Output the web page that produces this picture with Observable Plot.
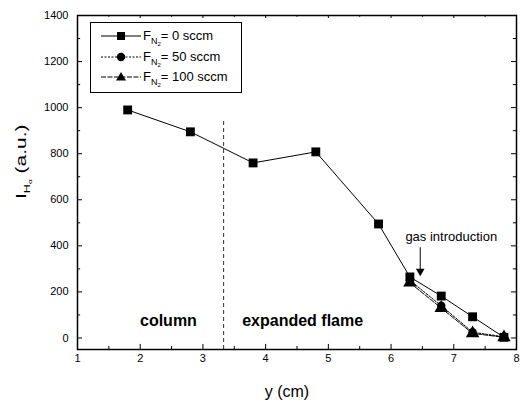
<!DOCTYPE html>
<html><head><meta charset="utf-8">
<script src="https://cdn.jsdelivr.net/npm/d3@7"></script>
<script src="https://cdn.jsdelivr.net/npm/@observablehq/plot@0.6"></script>
<style>
body{margin:0;background:#fff;font-family:"Liberation Sans",Arial,sans-serif;}
#wrap{position:relative;width:521px;height:407px;}
#legend{position:absolute;left:90px;top:22px;width:150px;height:69px;border:1px solid #000;background:#fff;}
.row{position:absolute;left:0;height:20px;font-size:13px;line-height:20px;white-space:nowrap;}
.row svg{position:absolute;left:10px;top:0;}
.row span{position:absolute;left:52px;top:0;}
sub{font-size:9px;vertical-align:-4px;line-height:0;}
sub sub{font-size:6px;vertical-align:-2px;}
#ylab{position:absolute;left:0;top:0;font-size:15px;white-space:nowrap;transform-origin:0 0;}
</style>
</head><body>
<div id="wrap"></div>
<script>
// data
const y0x = [1.8, 2.8, 3.8, 4.8, 5.8, 6.3, 6.8, 7.3, 7.8];
const y0v = [990, 895, 760, 808, 495, 265, 182, 92, 3];
const y50x = [6.3, 6.8, 7.3, 7.8];
const y50v = [250, 140, 25, 5];
const y100x = [6.3, 6.8, 7.3, 7.8];
const y100v = [240, 130, 20, 3];
const seriesNames = ["0 sccm", "50 sccm", "100 sccm"];
const xMajor = [1, 2, 3, 4, 5, 6, 7, 8];
const xMinor = [1.5, 2.5, 3.5, 4.5, 5.5, 6.5, 7.5];
const yMajor = [0, 200, 400, 600, 800, 1000, 1200, 1400];
const yMinor = [100, 300, 500, 700, 900, 1100, 1300];
const boundaryX = 3.33;
const arrowX = 6.465;

const d0 = y0x.map((x, i) => ({x, y: y0v[i]}));
const d50 = y50x.map((x, i) => ({x, y: y50v[i]}));
const d100 = y100x.map((x, i) => ({x, y: y100v[i]}));

const yMin = -50, yMax = 1400, xMin = 1, xMax = 8;
const tkY = 22, tkYm = 13, tkX = 0.08, tkXm = 0.05;

const chart = Plot.plot({
  width: 521, height: 407,
  marginTop: 15, marginLeft: 77, marginRight: 5, marginBottom: 58,
  style: {fontFamily: '"Liberation Sans", Arial, sans-serif', fontSize: "11px", color: "#000", background: "#fff"},
  x: {domain: [xMin, xMax]},
  y: {domain: [yMin, yMax]},
  marks: [
    Plot.axisX(xMajor, {tickSize: 0, tickPadding: 5, label: null, fontSize: 11, tickFormat: "d"}),
    Plot.axisY(yMajor, {tickSize: 0, tickPadding: 9, label: null, fontSize: 11, tickFormat: "d"}),
    // inward ticks
    Plot.ruleX(xMajor, {x: d => d, y1: yMin, y2: yMin + tkY, stroke: "#000"}),
    Plot.ruleX(xMinor, {x: d => d, y1: yMin, y2: yMin + tkYm, stroke: "#000"}),
    Plot.ruleX(xMajor, {x: d => d, y1: yMax, y2: yMax - tkYm, stroke: "#000"}),
    Plot.ruleX(xMinor, {x: d => d, y1: yMax, y2: yMax - tkYm * 0.6, stroke: "#000"}),
    Plot.ruleY(yMajor, {y: d => d, x1: xMin, x2: xMin + tkX, stroke: "#000"}),
    Plot.ruleY(yMinor, {y: d => d, x1: xMin, x2: xMin + tkXm, stroke: "#000"}),
    Plot.ruleY(yMajor, {y: d => d, x1: xMax, x2: xMax - tkX, stroke: "#000"}),
    Plot.ruleY(yMinor, {y: d => d, x1: xMax, x2: xMax - tkXm, stroke: "#000"}),
    // boundary
    Plot.ruleX([boundaryX], {x: d => d, y1: yMin, y2: 945, stroke: "#333", strokeDasharray: "4,3"}),
    // series
    Plot.line(d100, {x: "x", y: "y", stroke: "#000", strokeWidth: 1, strokeDasharray: "5,1.5"}),
    Plot.line(d50, {x: "x", y: "y", stroke: "#000", strokeWidth: 1, strokeDasharray: "2,1.5"}),
    Plot.line(d0, {x: "x", y: "y", stroke: "#000", strokeWidth: 1}),
    Plot.dot(d100, {x: "x", y: "y", symbol: "triangle", r: 5, fill: "#000"}),
    Plot.dot(d50, {x: "x", y: "y", symbol: "circle", r: 4.2, fill: "#000"}),
    Plot.dot(d0, {x: "x", y: "y", symbol: "square", r: 5, fill: "#000"}),
    // annotations
    Plot.text(["column"], {x: 2.45, y: 50, text: d => d, fontSize: 16, fontWeight: "bold", lineAnchor: "bottom", textAnchor: "middle"}),
    Plot.text(["expanded flame"], {x: 4.59, y: 50, text: d => d, fontSize: 16, fontWeight: "bold", lineAnchor: "bottom", textAnchor: "middle"}),
    Plot.text(["gas introduction"], {x: 6.96, y: 419, text: d => d, fontSize: 13, lineAnchor: "bottom", textAnchor: "middle"}),
    Plot.ruleX([arrowX], {x: d => d, y1: 392, y2: 290, stroke: "#000", strokeWidth: 1}),
    Plot.dot([arrowX], {x: d => d, y: 290, symbol: "triangle", r: 3.2, fill: "#000", rotate: 180}),
    Plot.text(["y (cm)"], {x: 4.34, frameAnchor: "bottom", dy: 47, text: d => d, fontSize: 16, lineAnchor: "bottom"}),
    Plot.frame({stroke: "#000", strokeWidth: 1.5})
  ]
});
const wrap = document.getElementById("wrap");
wrap.appendChild(chart);

// legend
const legend = document.createElement("div");
legend.id = "legend";
const styles = [
  {dash: null, sym: "square"},
  {dash: "2,1.5", sym: "circle"},
  {dash: "5,1.5", sym: "triangle"}
];
seriesNames.forEach((name, i) => {
  const row = document.createElement("div");
  row.className = "row";
  row.style.top = (3 + i * 20.5) + "px";
  const s = styles[i];
  let sym = "";
  if (s.sym === "square") sym = '<rect x="16" y="6" width="8" height="8" fill="#000"/>';
  if (s.sym === "circle") sym = '<circle cx="20" cy="10" r="4.2" fill="#000"/>';
  if (s.sym === "triangle") sym = '<path d="M20,5 L25,13.5 L15,13.5 Z" fill="#000"/>';
  row.innerHTML = `<svg width="40" height="20"><line x1="0" x2="40" y1="10" y2="10" stroke="#000" stroke-width="1" ${s.dash ? `stroke-dasharray="${s.dash}"` : ""}/>${sym}</svg>` +
    `<span>F<sub>N<sub>2</sub></sub>= ${name}</span>`;
  legend.appendChild(row);
});
wrap.appendChild(legend);

// y label
const yl = document.createElement("div");
yl.id = "ylab";
yl.innerHTML = 'I<sub>H<sub>α</sub></sub> (a.u.)';
wrap.appendChild(yl);
const w = yl.offsetWidth;
const sc = 74 / w;
yl.style.transform = `translate(12px, ${162 + w * sc / 2}px) rotate(-90deg) scale(${sc}, 1)`;
</script>
</body></html>
